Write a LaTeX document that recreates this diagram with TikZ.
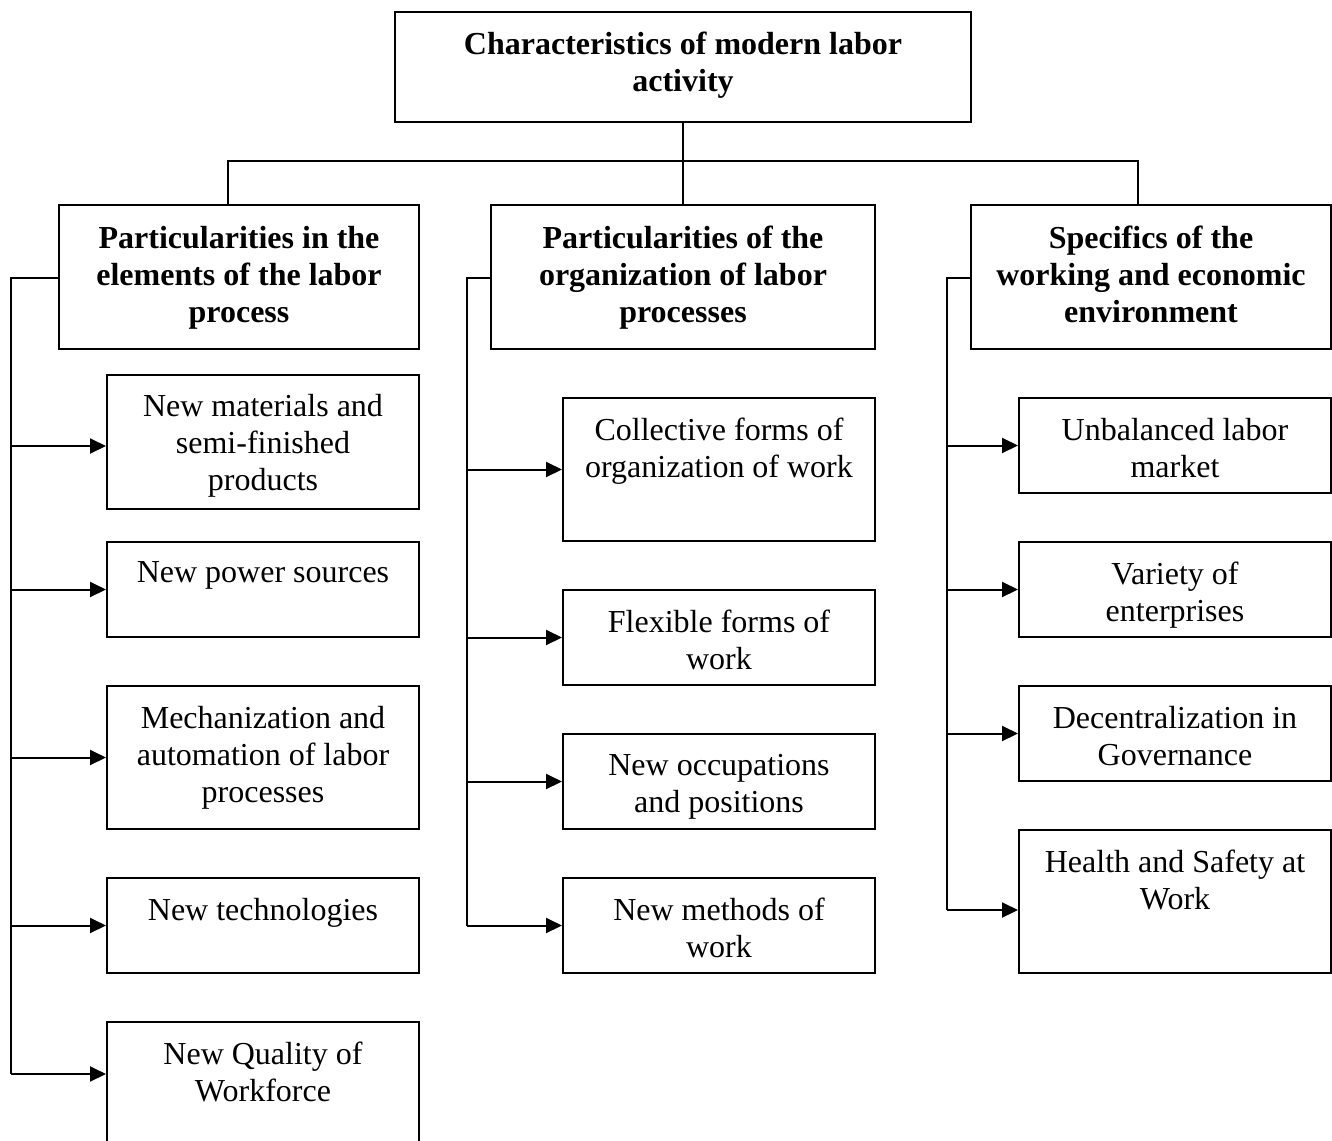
\documentclass[tikz,border=0pt]{standalone}
\usepackage{fontspec}
\setmainfont{Liberation Serif}
\usetikzlibrary{arrows.meta,fit}
\begin{document}
\begin{tikzpicture}[x=0.5pt,y=-0.5pt,
  line width=1pt,
  box/.style={draw,rectangle,inner sep=0pt,line width=1pt},
  txt/.style={anchor=north,inner sep=0pt,align=center,
    font=\fontsize{16pt}{18.5pt}\selectfont},
  btxt/.style={txt,font=\fontsize{16pt}{18.5pt}\selectfont\bfseries},
  arr/.style={-{Triangle[length=8pt,width=7.5pt]}}]
\useasboundingbox (0,0) rectangle (1332,1140);
\clip (0,0) rectangle (1332,1140);

% root and headers
\node[box,fit={(395,12) (971,122)}] (top) {};
\node[btxt] (topt) at (683,31) {Characteristics of modern labor\\activity};
\node[box,fit={(59,205) (419,349)}] (h1) {};
\node[btxt] (h1t) at (239,225) {Particularities in the\\elements of the labor\\process};
\node[box,fit={(491,205) (875,349)}] (h2) {};
\node[btxt] (h2t) at (683,225) {Particularities of the\\organization of labor\\processes};
\node[box,fit={(971,205) (1331,349)}] (h3) {};
\node[btxt] (h3t) at (1151,225) {Specifics of the\\working and economic\\environment};

% first column
\node[box,fit={(107,375) (419,509)}] (a1) {};
\node[txt] (a1t) at (263,393) {New materials and\\semi-finished\\products};
\node[box,fit={(107,542) (419,637)}] (a2) {};
\node[txt] (a2t) at (263,561) {New power sources};
\node[box,fit={(107,686) (419,829)}] (a3) {};
\node[txt] (a3t) at (263,705) {Mechanization and\\automation of labor\\processes};
\node[box,fit={(107,878) (419,973)}] (a4) {};
\node[txt] (a4t) at (263,897) {New technologies};
\node[box,fit={(107,1022) (419,1160)}] (a5) {};
\node[txt] (a5t) at (263,1041) {New Quality of\\Workforce};

% second column
\node[box,fit={(563,398) (875,541)}] (b1) {};
\node[txt] (b1t) at (719,417) {Collective forms of\\organization of work};
\node[box,fit={(563,590) (875,685)}] (b2) {};
\node[txt] (b2t) at (719,609) {Flexible forms of\\work};
\node[box,fit={(563,734) (875,829)}] (b3) {};
\node[txt] (b3t) at (719,753) {New occupations\\and positions};
\node[box,fit={(563,878) (875,973)}] (b4) {};
\node[txt] (b4t) at (719,897) {New methods of\\work};

% third column
\node[box,fit={(1019,398) (1331,493)}] (c1) {};
\node[txt] (c1t) at (1175,417) {Unbalanced labor\\market};
\node[box,fit={(1019,542) (1331,637)}] (c2) {};
\node[txt] (c2t) at (1175,561) {Variety of\\enterprises};
\node[box,fit={(1019,686) (1331,781)}] (c3) {};
\node[txt] (c3t) at (1175,705) {Decentralization in\\Governance};
\node[box,fit={(1019,830) (1331,973)}] (c4) {};
\node[txt] (c4t) at (1175,849) {Health and Safety at\\Work};

% tree from the root to the headers
\coordinate (busL) at (228,161);
\coordinate (busR) at (1138,161);
\draw (busL |- h1.north) -- (busL) -- (busR) -- (busR |- h3.north);
\draw (top.south) -- (h2.north);

% spines
\coordinate (s1) at (11,278);
\coordinate (s2) at (467,278);
\coordinate (s3) at (947,278);
\coordinate (e1) at (11,446);
\coordinate (e5) at (11,1074);
\coordinate (f4) at (947,910);
\draw (h1.west |- s1) -- (s1) -- (e5);
\draw (h2.west |- s2) -- (s2) -- (s2 |- b4.west);
\draw (h3.west |- s3) -- (s3) -- (f4);

% arrows to the items
\draw[arr] (e1) -- (a1.west |- e1);
\draw[arr] (s1 |- a2.west) -- (a2.west);
\draw[arr] (s1 |- a3.west) -- (a3.west);
\draw[arr] (s1 |- a4.west) -- (a4.west);
\draw[arr] (e5) -- (a5.west |- e5);
\draw[arr] (s2 |- b1.west) -- (b1.west);
\draw[arr] (s2 |- b2.west) -- (b2.west);
\draw[arr] (s2 |- b3.west) -- (b3.west);
\draw[arr] (s2 |- b4.west) -- (b4.west);
\draw[arr] (s3 |- c1.west) -- (c1.west);
\draw[arr] (s3 |- c2.west) -- (c2.west);
\draw[arr] (s3 |- c3.west) -- (c3.west);
\draw[arr] (f4) -- (c4.west |- f4);
\end{tikzpicture}
\end{document}
